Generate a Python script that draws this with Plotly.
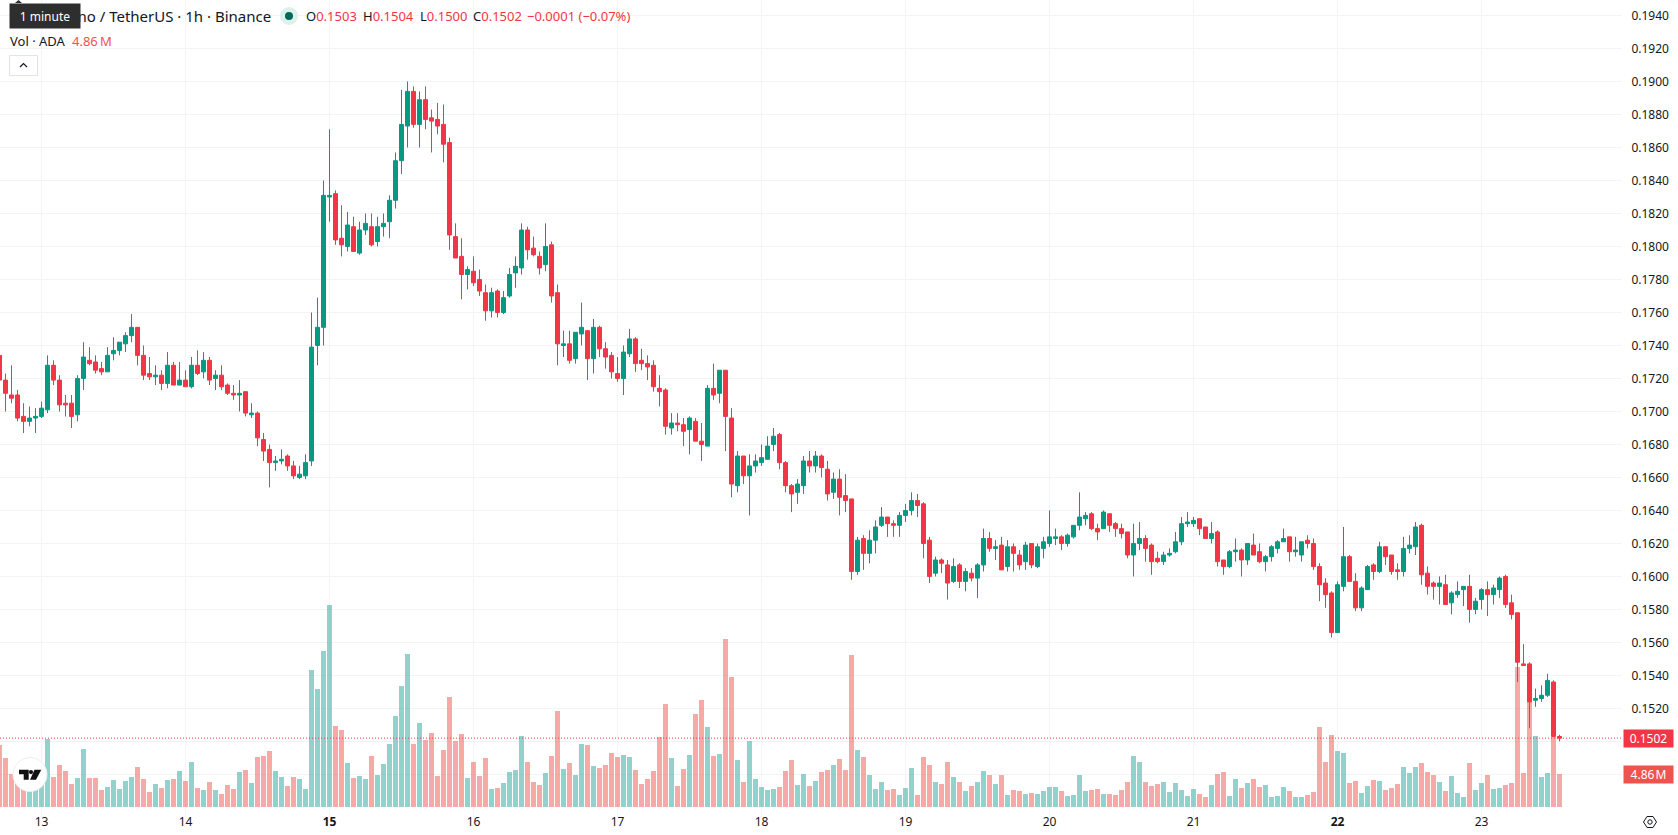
import plotly.graph_objects as go

# ADA/USDT hourly candles, prices stored in units of 0.0001
PRICE_UNIT = 0.0001

open_units = [
    1734,1719,1710,1710,1697,1694,1696,1697,1701,1728,
    1719,1705,1705,1698,1720,1731,1730,1726,1724,1735,
    1737,1741,1746,1751,1734,1723,1721,1722,1717,1728,
    1716,1719,1715,1728,1724,1731,1720,1722,1716,1711,
    1710,1712,1698,1699,1683,1677,1669,1670,1673,1667,
    1660,1661,1670,1740,1751,1830,1832,1805,1800,1812,
    1796,1810,1812,1803,1812,1815,1828,1852,1873,1894,
    1874,1889,1878,1877,1874,1863,1806,1794,1783,1785,
    1780,1772,1761,1773,1760,1770,1784,1787,1810,1799,
    1794,1789,1801,1772,1740,1741,1732,1747,1749,1732,
    1751,1738,1734,1723,1720,1735,1744,1731,1729,1728,
    1714,1713,1690,1693,1692,1689,1694,1682,1679,1714,
    1711,1725,1696,1655,1673,1661,1667,1669,1671,1680,
    1686,1669,1655,1651,1655,1670,1667,1673,1665,1651,
    1659,1649,1647,1603,1623,1614,1622,1631,1636,1632,
    1631,1637,1640,1646,1644,1622,1602,1610,1607,1597,
    1607,1597,1602,1599,1607,1623,1617,1619,1606,1618,
    1613,1609,1620,1606,1617,1620,1623,1624,1620,1624,
    1631,1635,1638,1629,1629,1638,1632,1629,1627,1613,
    1620,1623,1619,1611,1609,1613,1615,1621,1632,1632,
    1635,1630,1623,1627,1610,1606,1615,1616,1610,1619,
    1615,1609,1612,1617,1621,1624,1615,1613,1622,1620,
    1606,1596,1590,1566,1594,1612,1597,1581,1592,1607,
    1603,1618,1613,1604,1603,1617,1618,1631,1602,1596,
    1594,1595,1584,1589,1592,1594,1580,1586,1592,1589,
    1592,1600,1584,1578,1547,1547,1525,1526,1528,1536,
    1503,
]
high_units = [
    1736,1723,1728,1713,1705,1703,1702,1706,1734,1731,
    1722,1710,1710,1722,1742,1739,1734,1730,1739,1745,
    1742,1748,1759,1751,1740,1733,1728,1725,1736,1730,
    1730,1725,1733,1737,1736,1733,1725,1728,1717,1716,
    1719,1712,1705,1700,1687,1680,1673,1677,1674,1670,
    1667,1674,1760,1769,1840,1871,1834,1825,1821,1818,
    1815,1820,1820,1818,1820,1831,1857,1895,1900,1897,
    1894,1897,1883,1887,1886,1866,1814,1805,1788,1794,
    1786,1777,1775,1774,1773,1787,1794,1814,1812,1806,
    1797,1814,1803,1777,1749,1749,1748,1766,1749,1756,
    1752,1742,1736,1733,1740,1750,1745,1738,1734,1731,
    1722,1714,1699,1699,1696,1697,1696,1693,1716,1729,
    1725,1725,1702,1676,1673,1674,1674,1680,1685,1690,
    1687,1670,1656,1659,1673,1676,1676,1674,1670,1663,
    1665,1662,1647,1624,1625,1628,1634,1642,1636,1634,
    1639,1644,1651,1650,1645,1624,1612,1611,1610,1611,
    1608,1605,1605,1608,1629,1627,1622,1624,1622,1620,
    1616,1621,1620,1620,1624,1640,1629,1625,1626,1631,
    1651,1639,1639,1632,1640,1638,1633,1632,1627,1632,
    1633,1625,1620,1615,1615,1617,1627,1636,1639,1636,
    1635,1630,1633,1628,1610,1616,1623,1617,1620,1626,
    1620,1613,1619,1622,1629,1624,1624,1621,1625,1623,
    1608,1599,1591,1597,1630,1613,1602,1594,1607,1608,
    1621,1618,1613,1608,1624,1625,1633,1632,1606,1597,
    1600,1601,1591,1597,1594,1601,1587,1593,1597,1595,
    1600,1601,1589,1578,1559,1548,1532,1534,1541,1537,
    1504,
]
low_units = [
    1718,1700,1705,1694,1687,1691,1687,1696,1699,1716,
    1700,1697,1690,1694,1713,1728,1723,1722,1724,1731,
    1734,1736,1742,1728,1719,1719,1716,1713,1714,1716,
    1716,1715,1714,1722,1720,1716,1713,1713,1710,1707,
    1700,1697,1696,1679,1670,1654,1664,1668,1664,1659,
    1659,1659,1667,1728,1740,1815,1801,1794,1797,1797,
    1795,1807,1800,1800,1806,1805,1823,1844,1860,1872,
    1860,1871,1857,1868,1851,1798,1793,1768,1774,1776,
    1770,1755,1757,1757,1759,1769,1775,1783,1792,1794,
    1783,1785,1766,1728,1733,1729,1729,1740,1719,1723,
    1733,1726,1720,1718,1710,1733,1724,1725,1719,1712,
    1703,1686,1686,1688,1679,1674,1682,1670,1679,1707,
    1705,1676,1648,1651,1656,1637,1663,1667,1671,1676,
    1665,1651,1639,1644,1650,1663,1663,1660,1646,1647,
    1637,1639,1598,1601,1604,1608,1614,1630,1624,1624,
    1624,1633,1637,1636,1611,1596,1600,1602,1586,1596,
    1593,1591,1597,1587,1603,1615,1610,1604,1603,1603,
    1604,1604,1605,1605,1611,1618,1619,1616,1618,1623,
    1628,1631,1628,1622,1629,1627,1624,1623,1611,1600,
    1616,1609,1601,1608,1607,1612,1614,1619,1630,1630,
    1625,1623,1620,1606,1601,1605,1609,1600,1607,1613,
    1608,1603,1609,1614,1621,1609,1612,1609,1617,1604,
    1585,1581,1563,1566,1591,1597,1579,1579,1592,1598,
    1602,1607,1601,1598,1600,1614,1613,1595,1589,1586,
    1583,1583,1577,1587,1582,1572,1577,1580,1576,1583,
    1587,1581,1574,1536,1546,1508,1521,1524,1527,1503,
    1500,
]
close_units = [
    1719,1711,1708,1696,1694,1696,1697,1702,1728,1719,
    1704,1704,1697,1720,1733,1729,1725,1724,1734,1737,
    1742,1746,1751,1734,1722,1721,1722,1717,1728,1716,
    1719,1715,1728,1723,1731,1719,1722,1715,1711,1710,
    1711,1699,1699,1684,1676,1669,1670,1671,1667,1661,
    1662,1669,1739,1751,1831,1831,1804,1801,1813,1797,
    1810,1814,1801,1812,1814,1828,1852,1874,1894,1874,
    1889,1877,1876,1873,1862,1807,1793,1783,1786,1778,
    1773,1761,1772,1760,1769,1783,1788,1810,1798,1795,
    1787,1800,1770,1741,1741,1731,1748,1751,1732,1751,
    1738,1733,1724,1720,1736,1744,1729,1729,1727,1715,
    1712,1691,1693,1692,1688,1696,1682,1680,1714,1710,
    1725,1697,1656,1673,1661,1667,1670,1672,1679,1685,
    1669,1655,1650,1656,1670,1667,1673,1666,1650,1659,
    1648,1646,1603,1622,1614,1622,1630,1636,1632,1631,
    1637,1640,1646,1643,1620,1600,1610,1608,1596,1606,
    1597,1603,1599,1607,1623,1617,1618,1604,1618,1614,
    1607,1619,1607,1618,1621,1624,1624,1620,1625,1631,
    1636,1637,1629,1627,1639,1631,1629,1626,1613,1620,
    1623,1617,1609,1609,1613,1614,1621,1632,1633,1634,
    1629,1623,1626,1609,1606,1615,1616,1610,1620,1613,
    1609,1612,1618,1621,1623,1615,1616,1621,1620,1606,
    1595,1589,1566,1595,1612,1597,1581,1593,1606,1603,
    1618,1612,1603,1603,1617,1619,1630,1601,1594,1594,
    1596,1583,1590,1591,1594,1580,1585,1592,1589,1593,
    1599,1583,1577,1548,1546,1524,1526,1528,1537,1503,
    1502,
]
# Traded volume per hour, in millions of ADA
volumes_m = [
    9.13,7.22,4.86,4.47,4.47,2.99,3.24,3.98,10.01,4.42,
    6.19,5.30,3.39,4.27,8.54,4.27,4.27,2.50,2.95,3.98,
    2.65,3.83,4.42,5.89,4.12,2.21,3.39,2.80,3.98,4.12,
    5.30,3.83,6.63,2.80,2.50,3.68,2.50,1.91,3.24,2.65,
    5.15,5.45,3.53,7.36,7.51,8.25,5.30,4.42,3.09,4.42,
    4.12,2.65,20.18,17.38,22.97,29.75,11.93,11.34,6.48,4.27,
    4.57,4.12,7.51,4.71,6.33,9.28,13.40,17.82,22.53,9.28,
    12.37,9.87,10.90,4.57,8.40,16.20,9.72,10.75,4.27,6.63,
    4.57,7.22,2.65,2.80,3.53,5.15,5.45,10.46,6.63,3.68,
    3.24,5.01,7.51,14.14,5.60,6.48,4.71,9.28,9.13,6.04,
    5.74,6.19,7.95,7.36,7.66,7.36,5.45,3.39,4.12,5.30,
    10.31,15.17,7.22,3.09,5.60,7.66,13.70,15.76,11.78,7.51,
    7.81,24.74,19.15,6.92,3.68,9.72,4.12,2.95,2.50,2.65,
    2.95,5.30,6.92,3.24,4.86,3.09,3.83,5.15,5.45,6.19,
    7.07,5.45,22.39,8.40,7.36,4.71,2.65,3.68,2.50,2.65,
    1.77,2.80,5.74,1.77,7.36,6.19,3.68,3.39,6.63,4.42,
    3.68,2.36,3.09,3.68,5.30,4.71,3.39,4.71,1.77,2.50,
    2.36,1.91,2.06,1.91,2.36,2.95,2.95,2.36,1.62,1.77,
    4.71,2.36,2.50,2.65,1.91,1.91,1.77,2.50,3.68,7.51,
    6.63,3.68,3.09,3.39,3.68,2.21,3.53,2.50,1.62,2.65,
    1.91,1.47,3.24,4.86,5.15,1.62,4.12,2.80,3.53,4.12,
    2.95,3.24,1.47,1.62,2.95,2.36,1.47,1.47,1.77,2.21,
    11.78,6.63,10.60,8.25,7.95,3.53,3.83,2.06,3.09,3.98,
    3.83,2.50,2.80,3.39,5.89,5.01,5.89,6.48,5.15,4.71,
    3.68,2.36,4.57,2.06,1.47,6.48,2.50,3.53,4.71,2.65,
    2.80,3.24,3.53,20.62,5.01,15.61,10.46,4.42,5.01,10.31,
    4.86,
]
# Day labels on the time axis and the hour index each one falls on
day_hours = [7, 31, 55, 79, 103, 127, 151, 175, 199, 223, 247]
day_labels = ["13", "14", "<b>15</b>", "16", "17", "18", "19", "20", "21", "<b>22</b>", "23"]
# Price scale ticks; the last two labels give way to the value tags
price_ticks = [round(0.194 - 0.002 * i, 3) for i in range(24)]
price_labels = [f"{p:.4f}" if p >= 0.152 else "" for p in price_ticks]

FONT = "Noto Sans"
TEXT = "#131722"
UP = "#089981"
DOWN = "#F23645"
VOL_RED = "#EF5350"
VOL_UP = "rgba(38,166,154,0.5)"
VOL_DOWN = "rgba(239,83,80,0.5)"
GRID = "#F3F4F5"
TOOLTIP = "#2E2E2E"

PLOT_W, PLOT_H = 1622, 817


def fx(px):
    return px / PLOT_W


def fy(px):
    return (PLOT_H - px) / PLOT_H


opens = [round(v * PRICE_UNIT, 4) for v in open_units]
highs = [round(v * PRICE_UNIT, 4) for v in high_units]
lows = [round(v * PRICE_UNIT, 4) for v in low_units]
closes = [round(v * PRICE_UNIT, 4) for v in close_units]
hours = list(range(len(opens)))
vol_colors = [VOL_UP if c >= o else VOL_DOWN for o, c in zip(opens, closes)]

fig = go.Figure()
fig.add_bar(
    x=hours, y=volumes_m, width=5 / 6, marker=dict(color=vol_colors, line_width=0),
    yaxis="y", hoverinfo="skip", showlegend=False,
)
fig.add_candlestick(
    x=hours, open=opens, high=highs, low=lows, close=closes, yaxis="y2",
    increasing=dict(line=dict(color=UP, width=1), fillcolor=UP),
    decreasing=dict(line=dict(color=DOWN, width=1), fillcolor=DOWN),
    whiskerwidth=0, hoverinfo="skip", showlegend=False,
)

last = closes[-1]
change = last - opens[-1]
annotations = []


def text(x, y, s, color=TEXT, size=13):
    annotations.append(dict(
        xref="paper", yref="paper", x=fx(x), y=fy(y), text=s, showarrow=False,
        xanchor="left", yanchor="middle", align="left",
        font=dict(family=FONT, size=size, color=color),
    ))


# Symbol header and OHLC readout
text(33.5, 16, "Cardano / TetherUS · 1h · Binance", size=15)
ohlc = [(304, "O", opens[-1]), (361, "H", highs[-1]), (418, "L", lows[-1]), (471, "C", closes[-1])]
for x, letter, value in ohlc:
    text(x, 16, f'{letter}<span style="color:{DOWN}">{value:.4f}</span>')
pct = change / opens[-1] * 100
text(525, 16, f"−{abs(change):.4f} (−{abs(pct):.2f}%)", color=DOWN)
text(8, 41, "Vol · ADA")
text(70, 41, f"{volumes_m[-1]:.2f}\u2009M", color=VOL_RED)

# Tooltip over the header
annotations.append(dict(
    xref="paper", yref="paper", x=fx(9), y=fy(3), xanchor="left", yanchor="top",
    text="1 minute", showarrow=False, width=68, height=22, bgcolor=TOOLTIP,
    font=dict(family=FONT, size=12, color="#FFFFFF"),
))

# Current price and volume tags on the scale
annotations.append(dict(
    xref="paper", yref="y2", x=fx(1622.5), y=last, xanchor="left", yanchor="middle",
    text=f"{last:.4f}", showarrow=False, width=47, height=15, bgcolor=DOWN,
    font=dict(family=FONT, size=12, color="#FFFFFF"),
))
annotations.append(dict(
    xref="paper", yref="y", x=fx(1622.5), y=volumes_m[-1], xanchor="left", yanchor="middle",
    text=f"{volumes_m[-1]:.2f}\u200aM", showarrow=False, width=47, height=15, bgcolor=VOL_RED,
    font=dict(family=FONT, size=12, color="#FFFFFF"),
))

shapes = [
    # Dotted line at the last traded price
    dict(type="line", xref="paper", yref="y2", x0=0, x1=1, y0=last, y1=last,
         line=dict(color=DOWN, width=1, dash="1px,2px"), layer="above"),
    # Status dot next to the header
    dict(type="circle", xref="paper", yref="paper", x0=fx(280), x1=fx(298), y0=fy(25), y1=fy(7),
         fillcolor="#DDF1ED", line_width=0, layer="above"),
    dict(type="circle", xref="paper", yref="paper", x0=fx(285), x1=fx(293), y0=fy(20), y1=fy(12),
         fillcolor="#006B59", line_width=0, layer="above"),
    # Collapse button
    dict(type="rect", xref="paper", yref="paper", x0=fx(9.5), x1=fx(37.5), y0=fy(75.5), y1=fy(55.5),
         fillcolor="#FFFFFF", line=dict(color="#E0E3EB", width=1), layer="above"),
    dict(type="path", xref="paper", yref="paper",
         path=f"M {fx(20)} {fy(67)} L {fx(23.5)} {fy(63.5)} L {fx(27)} {fy(67)}",
         line=dict(color=TEXT, width=1.2), layer="above"),
    # Tooltip notch
    dict(type="path", xref="paper", yref="paper",
         path=f"M {fx(15)} {fy(3)} L {fx(18.5)} {fy(0)} L {fx(22)} {fy(3)} Z",
         fillcolor=TOOLTIP, line_width=0, layer="above"),
    # Logo badge
    dict(type="circle", xref="paper", yref="paper", x0=fx(13), x1=fx(47), y0=fy(791.5), y1=fy(757.5),
         fillcolor="#FFFFFF", line=dict(color="#EDEDED", width=1), layer="above"),
    dict(type="path", xref="paper", yref="paper",
         path=f"M {fx(19)} {fy(769.7)} L {fx(28.7)} {fy(769.7)} L {fx(28.7)} {fy(779.7)} L {fx(23.7)} {fy(779.7)} "
              f"L {fx(23.7)} {fy(774.3)} L {fx(19)} {fy(774.3)} Z",
         fillcolor="#111111", line_width=0, layer="above"),
    dict(type="circle", xref="paper", yref="paper", x0=fx(28.9), x1=fx(33.1), y0=fy(774.2), y1=fy(770),
         fillcolor="#111111", line_width=0, layer="above"),
    dict(type="path", xref="paper", yref="paper",
         path=f"M {fx(34.5)} {fy(769.7)} L {fx(41.3)} {fy(769.7)} L {fx(36)} {fy(779.7)} L {fx(30)} {fy(779.7)} Z",
         fillcolor="#111111", line_width=0, layer="above"),
    # Settings hexagon at the corner of the scales
    dict(type="path", xref="paper", yref="paper",
         path=f"M {fx(1643.5)} {fy(822)} L {fx(1647)} {fy(816.5)} L {fx(1653)} {fy(816.5)} "
              f"L {fx(1656.5)} {fy(822)} L {fx(1653)} {fy(827.5)} L {fx(1647)} {fy(827.5)} Z",
         line=dict(color=TEXT, width=1), layer="above"),
    dict(type="circle", xref="paper", yref="paper", x0=fx(1647.8), x1=fx(1652.2), y0=fy(824.2), y1=fy(819.8),
         line=dict(color=TEXT, width=1), layer="above"),
]

fig.update_layout(
    width=1678, height=835, autosize=False,
    margin=dict(l=0, r=1678 - PLOT_W, t=0, b=835 - PLOT_H, pad=0),
    paper_bgcolor="#FFFFFF", plot_bgcolor="#FFFFFF",
    boxgap=1 / 3, boxgroupgap=0, bargap=0, dragmode=False,
    xaxis=dict(
        range=[0.0833, 270.417], tickmode="array", tickvals=day_hours, ticktext=day_labels,
        showgrid=True, gridcolor=GRID, gridwidth=1, zeroline=False, showline=False,
        ticks="", rangeslider=dict(visible=False), ticklabelstandoff=-4,
        tickfont=dict(family=FONT, size=12, color=TEXT),
    ),
    yaxis=dict(range=[-1.4727, 118.85], visible=False, fixedrange=True),
    yaxis2=dict(
        overlaying="y", side="right", range=[0.14542, 0.19494],
        tickmode="array", tickvals=price_ticks, ticktext=price_labels,
        showgrid=True, gridcolor=GRID, gridwidth=1, zeroline=False, showline=False,
        ticks="outside", ticklen=6, tickcolor="rgba(0,0,0,0)",
        tickfont=dict(family=FONT, size=12, color=TEXT), fixedrange=True,
    ),
    annotations=annotations, shapes=shapes,
)

fig.write_html("out.html")
